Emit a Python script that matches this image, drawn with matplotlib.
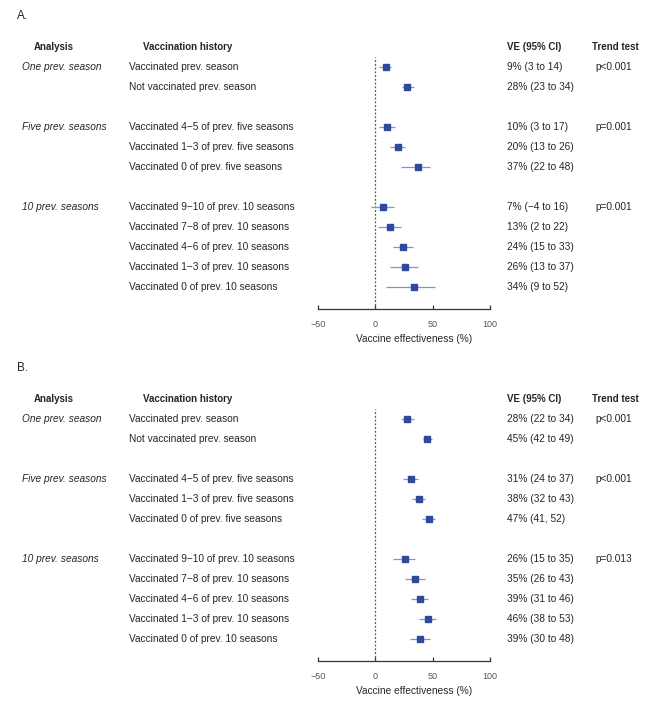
import matplotlib
matplotlib.use('Agg')
import matplotlib.pyplot as plt
from matplotlib.transforms import blended_transform_factory

plt.rcParams['font.family'] = ['Liberation Sans', 'DejaVu Sans']

W, H = 656, 702  # размер картинки в пикселях (dpi=100)

# Строки таблицы (одинаковые для обеих панелей)
analysis = ['One prev. season', 'Five prev. seasons', '10 prev. seasons']
history = [
    'Vaccinated prev. season',
    'Not vaccinated prev. season',
    'Vaccinated 4\u22125 of prev. five seasons',
    'Vaccinated 1\u22123 of prev. five seasons',
    'Vaccinated 0 of prev. five seasons',
    'Vaccinated 9\u221210 of prev. 10 seasons',
    'Vaccinated 7\u22128 of prev. 10 seasons',
    'Vaccinated 4\u22126 of prev. 10 seasons',
    'Vaccinated 1\u22123 of prev. 10 seasons',
    'Vaccinated 0 of prev. 10 seasons',
]
rows = [0, 1, 3, 4, 5, 7, 8, 9, 10, 11]  # пустые строки между группами
group_rows = [0, 3, 7]

# Панель A
ve_a = [9, 28, 10, 20, 37, 7, 13, 24, 26, 34]
lo_a = [3, 23, 3, 13, 22, -4, 2, 15, 13, 9]
hi_a = [14, 34, 17, 26, 48, 16, 22, 33, 37, 52]
ve_text_a = ['9% (3 to 14)', '28% (23 to 34)', '10% (3 to 17)', '20% (13 to 26)',
             '37% (22 to 48)', '7% (\u22124 to 16)', '13% (2 to 22)', '24% (15 to 33)',
             '26% (13 to 37)', '34% (9 to 52)']
p_a = ['p<0.001', 'p=0.001', 'p=0.001']

# Панель B
ve_b = [28, 45, 31, 38, 47, 26, 35, 39, 46, 39]
lo_b = [22, 42, 24, 32, 41, 15, 26, 31, 38, 30]
hi_b = [34, 49, 37, 43, 52, 35, 43, 46, 53, 48]
ve_text_b = ['28% (22 to 34)', '45% (42 to 49)', '31% (24 to 37)', '38% (32 to 43)',
             '47% (41, 52)', '26% (15 to 35)', '35% (26 to 43)', '39% (31 to 46)',
             '46% (38 to 53)', '39% (30 to 48)']
p_b = ['p<0.001', 'p<0.001', 'p=0.013']

TXT = '#262626'
FS = 7.25


def draw_panel(fig, top, letter, ve, lo, hi, ve_text, p_text):
    row0 = top + 66.7
    ax_top = top + 56.7
    ax_bot = top + 309
    ax = fig.add_axes([318 / W, 1 - ax_bot / H, 172 / W, (ax_bot - ax_top) / H])
    ax.set_xlim(-50, 100)
    ax.set_ylim((ax_bot - row0) / 20, (ax_top - row0) / 20)

    ax.axvline(0, color='#555555', linestyle=(0, (1.5, 1.5)), linewidth=0.9)
    ax.hlines(rows, lo, hi, color='#8393cc', linewidth=0.9)
    ax.plot(ve, rows, 's', color='#2f4a9c', markersize=3.7)

    for s in ['left', 'top', 'right']:
        ax.spines[s].set_visible(False)
    ax.spines['bottom'].set_color('#333333')
    ax.spines['bottom'].set_linewidth(0.9)
    ax.set_yticks([])
    ax.set_xticks([-50, 0, 50, 100])
    ax.set_xticklabels(['\u221250', '0', '50', '100'])
    ax.tick_params(axis='x', direction='in', length=3, width=0.9, color='#333333',
                   labelsize=6.5, labelcolor='#555555', pad=8)
    ax.set_xlabel('Vaccine effectiveness (%)', fontsize=FS, color=TXT)
    ax.xaxis.set_label_coords((414 - 318) / 172, -25 / (ax_bot - ax_top))

    tr = blended_transform_factory(fig.transFigure, ax.transData)
    fig.text(17 / W, 1 - (top + 15.7) / H, letter, fontsize=8.5, color=TXT,
             ha='left', va='center')

    # заголовки
    hdr = dict(transform=tr, fontsize=7, fontweight='bold', color=TXT, va='center')
    ax.text(54 / W, -1, 'Analysis', ha='center', **hdr)
    ax.text(188 / W, -1, 'Vaccination history', ha='center', **hdr)
    ax.text(507 / W, -1, 'VE (95% CI)', ha='left', **hdr)
    ax.text(615 / W, -1, 'Trend test', ha='center', **hdr)

    cell = dict(transform=tr, fontsize=FS, color=TXT, va='center')
    for r, name, p in zip(group_rows, analysis, p_text):
        ax.text(22 / W, r, name, ha='left', style='italic', **cell)
        ax.text(614 / W, r, p, ha='center', **cell)
    for r, h, v in zip(rows, history, ve_text):
        ax.text(129 / W, r, h, ha='left', **cell)
        ax.text(507 / W, r, v, ha='left', **cell)


fig = plt.figure(figsize=(W / 100, H / 100), dpi=100)
draw_panel(fig, 0, 'A.', ve_a, lo_a, hi_a, ve_text_a, p_a)
draw_panel(fig, 352, 'B.', ve_b, lo_b, hi_b, ve_text_b, p_b)
fig.savefig('out.png', dpi=100)
